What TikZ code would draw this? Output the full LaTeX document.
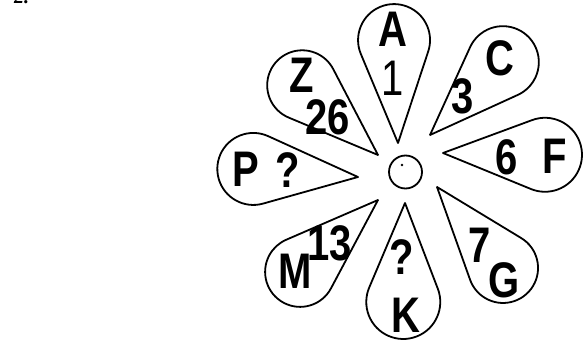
\documentclass[tikz,border=0pt]{standalone}
\usepackage{fontspec}
\setmainfont{Liberation Sans}
\newfontfamily\numserif{Liberation Serif}
\tikzset{
  petalline/.style={line width=1.8pt, line join=round},
  lab/.style={inner sep=0pt, font=\fontsize{50}{50}\selectfont, xscale=0.8},
  labb/.style={inner sep=0pt, font=\fontsize{50}{50}\selectfont\bfseries, xscale=0.8},
}
\newcommand{\petal}[5]{%
  \begin{scope}[shift={(#1,#2)}, rotate=#3]
    \pgfmathsetmacro\pal{asin(#5/#4)}
    \pgfmathsetmacro\pL{sqrt(#4*#4-#5*#5)}
    \draw[petalline] (0,0) -- (\pal:\pL) arc[start angle=90+\pal, end angle=-90-\pal, radius=#5] -- cycle;
  \end{scope}}
\begin{document}
\begin{tikzpicture}[x=1pt,y=1pt]
\useasboundingbox (0,0) rectangle (586,343);
\fill[white] (0,0) rectangle (586,343);
% partly visible heading
\node[anchor=base west, inner sep=0pt, font=\numserif\fontsize{20}{20}\selectfont\bfseries\itshape] (num) at (14,339) {2.};
% petals: tip x, tip y, angle, length, radius
\petal{398}{200}{92.2}{103}{36}
\petal{430}{208}{45}{103}{36}
\petal{443}{190}{-1}{102}{37}
\petal{437}{156}{-50.8}{104.5}{35}
\petal{405}{140}{-91}{99}{37}
\petal{378}{143}{-137.3}{106}{35}
\petal{358}{166}{175.6}{105}{36}
\petal{378}{188}{137.4}{103}{35}
% hub
\draw[petalline] (405.5,171) circle[radius=16.5];
\fill (402,178) circle[radius=1.3];
% labels
\node[labb] (lA)  at (393,314) {A};
\node[lab]  (n1)  at (393,265) {1};
\node[labb] (lC)  at (500,285) {C};
\node[labb] (n3)  at (463,247) {3};
\node[labb] (lF)  at (555,187) {F};
\node[labb] (n6)  at (507,186) {6};
\node[labb] (lG)  at (504,63)  {G};
\node[labb] (n7)  at (480,98)  {7};
\node[labb] (lK)  at (406,28)  {K};
\node[labb] (qK)  at (402,86)  {?};
\node[labb] (lM)  at (295,72)  {M};
\node[labb] (n13) at (330,100) {13};
\node[labb] (lP)  at (246,174) {P};
\node[labb] (qP)  at (288,173) {?};
\node[labb] (lZ)  at (302,268) {Z};
\node[labb] (n26) at (328,226) {26};
\end{tikzpicture}
\end{document}
